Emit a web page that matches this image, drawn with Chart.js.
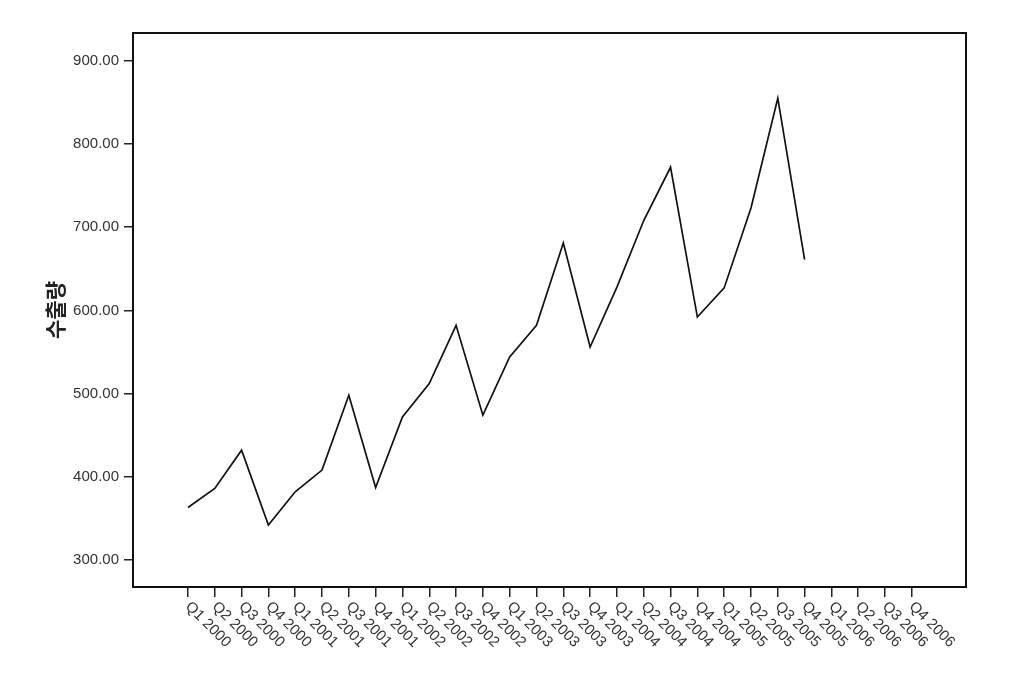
<!DOCTYPE html>
<html lang="ko">
<head>
    <meta charset="UTF-8">
    <title>수출량</title>
    <script src="https://cdn.jsdelivr.net/npm/chart.js"></script>
    <style>
        body { margin: 0; background: #fff; }
        #wrap { width: 1016px; height: 680px; }
    </style>
</head>
<body>
    <div id="wrap"><canvas id="lineChart"></canvas></div>

    <script>
        const quarters = [
            'Q1 2000', 'Q2 2000', 'Q3 2000', 'Q4 2000',
            'Q1 2001', 'Q2 2001', 'Q3 2001', 'Q4 2001',
            'Q1 2002', 'Q2 2002', 'Q3 2002', 'Q4 2002',
            'Q1 2003', 'Q2 2003', 'Q3 2003', 'Q4 2003',
            'Q1 2004', 'Q2 2004', 'Q3 2004', 'Q4 2004',
            'Q1 2005', 'Q2 2005', 'Q3 2005', 'Q4 2005',
            'Q1 2006', 'Q2 2006', 'Q3 2006', 'Q4 2006'
        ];
        const exports = [
            363, 386, 432, 342,
            382, 408, 498, 387,
            472, 512, 582, 474,
            544, 582, 681, 556,
            628, 708, 772, 592,
            627, 723, 855, 661,
            null, null, null, null
        ];
        const yTicks = [300, 400, 500, 600, 700, 800, 900];
        const yTitle = '수출량';

        const labelFont = '15px "Liberation Sans", Arial, sans-serif';

        // x labels run down-right from each tick, plus the box around the plot
        const framePlugin = {
            id: 'frame',
            afterDraw(chart) {
                const ctx = chart.ctx;
                const xs = chart.scales.x;
                const area = chart.chartArea;
                ctx.save();
                ctx.strokeStyle = '#111';
                ctx.lineWidth = 2;
                ctx.strokeRect(area.left, area.top, area.right - area.left, area.bottom - area.top);

                ctx.font = labelFont;
                ctx.fillStyle = '#333';
                ctx.textAlign = 'left';
                ctx.textBaseline = 'top';
                quarters.forEach((q, i) => {
                    const x = xs.getPixelForValue(i);
                    ctx.save();
                    ctx.translate(x + 5, area.bottom + 12);
                    ctx.rotate(Math.PI / 4);
                    ctx.fillText(q, 0, 0);
                    ctx.restore();
                });
                ctx.restore();
            }
        };

        new Chart(document.getElementById('lineChart'), {
            type: 'line',
            data: {
                datasets: [{
                    label: yTitle,
                    data: exports.map((v, i) => ({ x: i, y: v })),
                    borderColor: '#111',
                    borderWidth: 1.7,
                    pointRadius: 0,
                    tension: 0,
                    spanGaps: false
                }]
            },
            options: {
                responsive: true,
                maintainAspectRatio: false,
                animation: false,
                layout: { padding: { left: 39, top: 33, right: 50, bottom: 0 } },
                plugins: {
                    legend: { display: false },
                    tooltip: { enabled: false }
                },
                scales: {
                    x: {
                        type: 'linear',
                        min: -2.05,
                        max: 29.02,
                        afterBuildTicks: (scale) => {
                            scale.ticks = quarters.map((q, i) => ({ value: i }));
                        },
                        afterFit: (scale) => { scale.height = 93; },
                        ticks: { display: false },
                        grid: {
                            drawOnChartArea: false,
                            drawTicks: true,
                            tickLength: 10,
                            color: '#222',
                            lineWidth: 1.5
                        },
                        border: { display: false }
                    },
                    y: {
                        min: 267.5,
                        max: 933.4,
                        afterBuildTicks: (scale) => {
                            scale.ticks = yTicks.map(v => ({ value: v }));
                        },
                        afterFit: (scale) => { scale.width = 94; },
                        ticks: {
                            font: { family: '"Liberation Sans", Arial, sans-serif', size: 15 },
                            color: '#333',
                            padding: 5,
                            callback: (v) => Number(v).toFixed(2)
                        },
                        grid: {
                            drawOnChartArea: false,
                            drawTicks: true,
                            tickLength: 9,
                            color: '#222',
                            lineWidth: 1.5
                        },
                        border: { display: false },
                        title: {
                            display: true,
                            text: yTitle,
                            color: '#222',
                            font: { family: '"Noto Sans CJK KR", sans-serif', size: 21, weight: '600' },
                            padding: { top: 3, bottom: 0 }
                        }
                    }
                }
            },
            plugins: [framePlugin]
        });
    </script>
</body>
</html>
